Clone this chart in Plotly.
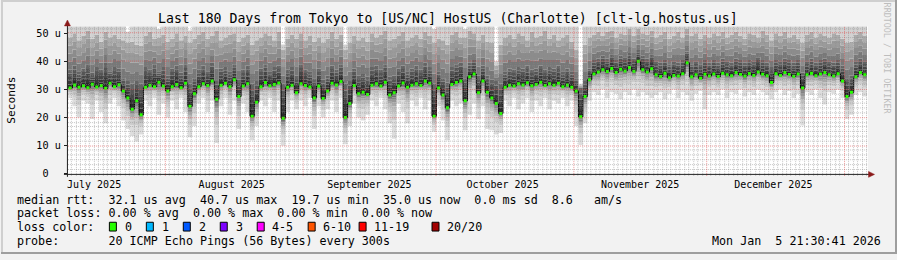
import pandas as pd
import plotly.graph_objects as go

# ---------------- data ----------------
title_text = "Last 180 Days from Tokyo to [US/NC] HostUS (Charlotte) [clt-lg.hostus.us]"
first_day = "2025-07-10 02:30"      # start of the first daily column
x_range = ["2025-07-10 02:30", "2026-01-06 08:00"]
y_max = 52.43

month_labels = ["July 2025", "August 2025", "September 2025",
                "October 2025", "November 2025", "December 2025"]
month_label_pos = ["2025-07-16", "2025-08-16", "2025-09-16",
                   "2025-10-16", "2025-11-16", "2025-12-16"]
month_starts = ["2025-08-01", "2025-09-01", "2025-10-01",
                "2025-11-01", "2025-12-01", "2026-01-01"]
y_tick_vals = [0, 10, 20, 30, 40, 50]
y_tick_text = ["0\u00a0\u00a0", "10 u", "20 u", "30 u", "40 u", "50 u"]

# daily median rtt (units of the y axis, "u")
median_rtt = [
    30.5, 31.6, 30.8, 31.3, 30.6, 31.9, 30.9, 31.4, 30.4, 32.2, 31.0, 31.7,
    29.5, 27.0, 23.0, 26.0, 21.0,
    30.8, 31.5, 31.0, 32.6, 31.2,
    29.5,
    31.0, 31.8, 30.6, 32.2,
    24.0, 28.5,
    31.0, 32.0, 31.4, 33.0,
    26.5,
    31.5, 32.2, 31.0, 33.5,
    27.5,
    31.2, 32.0,
    20.5, 25.5,
    31.0, 32.5, 31.3, 31.8, 32.3,
    19.8,
    30.8, 31.5,
    28.8,
    32.0, 31.4, 30.9,
    27.0,
    31.2,
    26.8, 29.5,
    32.2, 31.6, 32.8,
    20.0, 25.0,
    31.4,
    28.5, 29.0, 28.2,
    31.5, 32.0, 31.2, 32.6,
    28.0, 28.8,
    31.2, 32.3, 30.8, 31.5, 32.0,
    31.4, 33.0, 32.2,
    20.5,
    30.5, 28.0, 23.5,
    31.8, 32.5, 33.0,
    26.0,
    34.5, 35.5,
    28.8, 33.0, 29.0, 27.0, 25.0, 21.5,
    30.8, 31.5, 31.2, 32.0, 31.6, 32.4, 31.3, 31.8, 32.6, 31.4, 32.0, 31.5, 32.2, 31.0, 31.6, 30.8,
    29.5, 20.3, 27.5, 33.5,
    35.5, 36.2, 37.0, 36.4, 37.5, 36.0, 37.2, 36.6, 37.8, 36.5, 40.0, 37.0, 36.2, 37.4,
    35.2, 34.6, 35.8, 34.2, 35.0, 34.8, 35.6, 39.5, 34.5, 35.2, 34.0, 35.4, 34.8,
    35.5, 34.6, 35.8, 35.2, 34.9, 36.0, 35.3, 34.8, 35.7, 35.0, 36.2, 35.4, 34.9,
    32.5,
    35.6, 35.0, 36.0, 35.3, 34.7, 35.5,
    30.5,
    35.2, 35.8, 34.9, 35.5, 36.0, 35.2, 34.8, 35.6,
    33.0, 27.5, 29.0,
    34.5, 36.0, 35.2,
]

# lowest ping of each day (bottom of the smoke)
min_rtt = [
    27, 24, 20, 26, 25, 19.5, 26, 22, 18, 25, 27, 24,
    19, 16, 13.5, 11.5, 14,
    26, 24, 27, 21, 25,
    20,
    26, 23, 27, 22,
    13, 17,
    25, 27, 22, 26,
    11,
    24, 27, 21, 26,
    16,
    25, 22,
    12, 17,
    26, 24, 27, 22, 26,
    10,
    22, 26,
    23,
    26, 24, 27,
    16,
    24,
    20, 23,
    26, 22, 27,
    10.5, 17,
    25,
    20, 19, 21,
    26, 24, 27, 23,
    18, 12.5,
    25, 22, 18, 26, 24,
    27, 23, 26,
    15,
    24, 19, 12,
    26, 24, 25,
    15.5,
    21, 25,
    19.5, 24, 16, 15.5, 14, 14.5,
    26, 24, 27, 23, 25, 27, 22, 26, 24, 27, 23, 26, 25, 27, 24, 26,
    17, 10.3, 18, 26,
    29, 28, 30, 27, 29, 28.5, 26.5, 29, 28, 30, 27.5, 29, 28, 27,
    28, 29, 26.5, 28.5, 30, 27, 29, 28, 26, 28.5, 29.5, 23, 28,
    29, 28, 30, 27, 29, 28.5, 30, 27.5, 29, 28, 30, 29, 28,
    26.5,
    29, 30, 28, 29.5, 27, 28.5,
    17.2,
    29, 28, 30, 27, 24.7, 29, 28.5, 30,
    27, 19.5, 21,
    28, 29, 27.5,
]

# upper quartile ping of each day (top of the dark smoke)
upper_quartile = [
    37, 38.5, 36.5, 37.5, 39, 36, 38, 37, 39.5, 36.5, 38, 37.5,
    34, 33, 32, 33, 32,
    38, 37, 39, 36.5, 38,
    35,
    37.5, 38.5, 36, 39,
    32, 34,
    37, 38.5, 36.5, 39.5,
    33,
    37.5, 38, 36.5, 39,
    33.5,
    37, 38.5,
    32, 33,
    37.5, 39, 36.5, 38, 38.5,
    32,
    37, 38,
    35,
    39, 37, 36.5,
    34,
    37.5,
    33.5, 35,
    38.5, 37, 39,
    32, 33,
    37.5,
    35, 35.5, 34.5,
    38, 38.5, 37, 39,
    34.5, 35,
    37.5, 38.5, 36.5, 37.5, 38.5,
    37, 39.5, 38,
    32,
    36.5, 34, 32.5,
    38, 39, 39.5,
    34,
    39.5, 40.5,
    35, 38.5, 35, 33.5, 33, 32,
    36.5, 37.5, 37, 38, 37.5, 38.5, 37, 37.5, 38.5, 37, 38, 37.5, 38.5, 36.5, 37.5, 36.5,
    34, 30.5, 33, 37.5,
    40.5, 41, 42, 41, 42.5, 40.5, 42, 41.5, 43, 41, 44, 42, 41, 42.5,
    40, 39.5, 40.5, 39, 40, 39.5, 40.5, 43.5, 39, 40, 39, 40.5, 39.5,
    40.5, 39.5, 41, 40, 39.5, 41, 40.5, 39.5, 40.5, 40, 41.5, 40.5, 39.5,
    38,
    40.5, 40, 41, 40.5, 39.5, 40.5,
    36,
    40, 41, 39.5, 40.5, 41, 40, 39.5, 40.5,
    38.5, 34, 35,
    40, 41, 40,
]

# 19th of 20 pings (top of the medium smoke)
high_rtt = [
    48.5, 50, 47.5, 49, 51, 48, 49.5, 47, 50.5, 48.5,
    49.5, 48, 47.5, 46.5, 47, 46, 45.5, 49, 50.5, 48,
    48.5, 49.5, 47, 48, 50, 47.5, 49, 46.5, 48, 49.5,
    50.5, 48, 49, 51, 47.5, 48.5, 49.5, 50, 47, 48.5,
    49.5, 46, 47.5, 48.5, 50, 49, 47.5, 50.5, 44, 48,
    49.5, 48, 50, 47.5, 49, 47, 48.5, 46.5, 48, 50.5,
    48, 49.5, 44, 46.5, 49, 47.5, 48.5, 47, 50, 48.5,
    49.5, 51, 47.5, 48, 49, 50.5, 47.5, 48.5, 49.5, 48,
    50.5, 49, 46.5, 48, 47.5, 46, 49.5, 50.5, 48.5, 48.5,
    51, 50, 47.5, 49.5, 47, 46.5, 38.5, 46, 48.5, 49.5,
    48, 50, 49, 47.5, 50.5, 48.5, 49, 51, 48, 49.5,
    47.5, 48.5, 49.5, 47, 44, 31.5, 46, 48.5, 49.5, 50.5,
    49, 50.5, 51, 48.5, 50, 49.5, 51.5, 49, 51.5, 50,
    49.5, 51, 48.5, 49.5, 50.5, 48, 49, 50.5, 48.5, 51.5,
    49, 50, 48, 49.5, 48.5, 50, 49, 50.5, 48.5, 49.5,
    50.5, 49, 48, 50, 49.5, 48.5, 51, 49.5, 47.5, 50,
    49, 50.5, 48.5, 49.5, 48, 46.5, 49.5, 50.5, 48.5, 50,
    49, 48.5, 50, 49.5, 48, 46.5, 47, 49.5, 50.5, 49,
]

# highest ping of each day (most days run off the top of the graph)
max_rtt = [
    56, 56, 56, 56, 56, 56, 56, 56, 56, 56, 56, 56, 56, 50.5, 56, 56, 56, 56, 56, 56,
    51.5, 56, 56, 56, 56, 56, 56, 51, 56, 56, 56, 56, 56, 56, 56, 56, 56, 56, 56, 56,
    56, 56, 56, 56, 56, 56, 56, 56, 46, 56, 56, 56, 56, 56, 56, 56, 56, 56, 56, 56,
    56, 56, 46, 56, 56, 56, 56, 56, 56, 56, 56, 56, 56, 56, 56, 56, 56, 56, 56, 56,
    56, 56, 51.5, 56, 56, 56, 56, 56, 56, 51.5, 56, 56, 56, 56, 56, 56, 40, 56, 56, 56,
    56, 56, 56, 56, 56, 56, 56, 56, 56, 56, 56, 56, 56, 56, 56, 32, 56, 56, 56, 56,
    56, 56, 56, 56, 56, 56, 56, 56, 56, 56, 56, 56, 56, 56, 56, 56, 56, 56, 56, 56,
    56, 56, 56, 56, 56, 56, 56, 56, 56, 56, 56, 56, 56, 56, 56, 56, 56, 56, 56, 56,
    56, 56, 56, 56, 56, 56, 56, 56, 56, 56, 56, 56, 56, 56, 56, 56, 56, 56, 56, 56,
]

legend_median = "median rtt:  32.1 us avg  40.7 us max  19.7 us min  35.0 us now  0.0 ms sd  8.6   am/s"
legend_loss = "packet loss: 0.00 % avg  0.00 % max  0.00 % min  0.00 % now"
loss_labels = ["0", "1", "2", "3", "4-5", "6-10", "11-19", "20/20"]
loss_colors = ["#26ff00", "#00b8ff", "#0059ff", "#7e00ff", "#ff00ff", "#ff5500", "#ff0000", "#a10000"]
probe_text = "probe:       20 ICMP Echo Pings (56 Bytes) every 300s"
stamp_text = "Mon Jan  5 21:30:41 2026"
watermark = "RRDTOOL / TOBI OETIKER"

# ---------------- layout helpers ----------------
W, H = 897, 260
FONT = "DejaVu Sans Mono"


def px(x):
    return x / W


def py(y):
    return 1 - y / H


def nb(s):
    return s.replace(" ", "\u00a0")


PL, PR, PT, PB = 67, 868, 27, 178
T_START = pd.Timestamp(x_range[0])
T_END = pd.Timestamp(x_range[1])


def snap(p):
    # put a 1px grid line on a pixel centre
    return int(p) + 0.5


def date_px(d):
    return PL + (pd.Timestamp(d) - T_START) / (T_END - T_START) * (PR - PL)


def val_py(v):
    return PB - v / y_max * (PB - PT)


n = len(median_rtt)
assert all(len(a) == n for a in (min_rtt, upper_quartile, high_rtt, max_rtt))
t0 = pd.Timestamp(first_day)
bounds = [t0 + pd.Timedelta(days=i) for i in range(n + 1)]
centers = [t0 + pd.Timedelta(days=i, hours=12) for i in range(n)]

# smoke bands (SmokePing style: dark near the median, light at the extremes)
lower_frac = [0.6, 0.42, 0.30, 0.21, 0.15, 0.10, 0.06, 0.03]
edges = [min_rtt]
for f in lower_frac:
    edges.append([m - (m - lo) * f for m, lo in zip(median_rtt, min_rtt)])
edges.append(median_rtt)
for f in (0.2, 0.4, 0.6, 0.8):
    edges.append([m + (q - m) * f for m, q in zip(median_rtt, upper_quartile)])
edges.append(upper_quartile)
for f in (0.25, 0.5, 0.75):
    edges.append([q + (h - q) * f for q, h in zip(upper_quartile, high_rtt)])
edges.append(high_rtt)
edges.append(max_rtt)
band_grey = [221, 205, 190, 170, 150, 130, 110, 90, 70,
             40, 55, 70, 85, 100, 120, 140, 155, 172, 210]

fig = go.Figure()
for k, e in enumerate(edges):
    yv = list(e) + [e[-1]]
    if k == 0:
        fig.add_trace(go.Scatter(x=bounds, y=yv, mode="lines", line=dict(width=0, shape="hv"),
                                 hoverinfo="skip"))
    else:
        g = band_grey[k - 1]
        fig.add_trace(go.Scatter(x=bounds, y=yv, mode="lines", line=dict(width=0, shape="hv"),
                                 fill="tonexty", fillcolor=f"rgb({g},{g},{g})", hoverinfo="skip"))

# median line with loss-colour dots
fig.add_trace(go.Scatter(x=centers, y=median_rtt, mode="lines+markers",
                         line=dict(color="#000000", width=1, shape="hvh"),
                         marker=dict(symbol="square", size=3, color=loss_colors[0], line=dict(width=0)),
                         hoverinfo="skip"))

shapes = []
GRID = "rgba(143,143,143,0.5)"
MGRID = "rgba(222,79,79,0.6)"


def hline(v, color):
    yy = snap(val_py(v))
    return dict(type="line", xref="paper", yref="paper", x0=px(PL), x1=px(PR), y0=py(yy), y1=py(yy),
                line=dict(color=color, width=1, dash="1px,1px"), layer="above")


def vline(d, color):
    xx = snap(date_px(d))
    return dict(type="line", xref="paper", yref="paper", x0=px(xx), x1=px(xx), y0=py(PB + 2), y1=py(PT),
                line=dict(color=color, width=1, dash="1px,1px"), layer="above")


# minor grid
for k in range(1, 32):
    if k % 6 == 0:
        continue
    shapes.append(hline(k * 10 / 6, GRID))
for d in pd.date_range("2025-07-11", "2026-01-06", freq="D"):
    if d.day == 1:
        continue
    shapes.append(vline(d, GRID))
# major grid
for yv in y_tick_vals[1:]:
    shapes.append(hline(yv, MGRID))
for ms in month_starts:
    shapes.append(vline(ms, MGRID))
# axes and arrows
AX = "#1f1f1f"
AR = "#8b1a1a"
shapes.append(dict(type="line", xref="paper", yref="paper", x0=px(63), x1=px(870), y0=py(178.5), y1=py(178.5),
                   line=dict(color=AX, width=1), layer="above"))
shapes.append(dict(type="line", xref="paper", yref="paper", x0=px(66.5), x1=px(66.5), y0=py(181), y1=py(25),
                   line=dict(color=AX, width=1), layer="above"))
shapes.append(dict(type="path", xref="paper", yref="paper",
                   path=f"M {px(63.5)} {py(26.5)} L {px(69.5)} {py(26.5)} L {px(66.5)} {py(20.5)} Z",
                   fillcolor=AR, line=dict(color=AR, width=0.5), layer="above"))
shapes.append(dict(type="path", xref="paper", yref="paper",
                   path=f"M {px(868.5)} {py(175.5)} L {px(868.5)} {py(181.5)} L {px(874.5)} {py(178.5)} Z",
                   fillcolor=AR, line=dict(color=AR, width=0.5), layer="above"))
# 3D frame
shapes += [
    dict(type="rect", xref="paper", yref="paper", x0=0, x1=1, y0=py(2), y1=1, fillcolor="#cfcfcf", line=dict(width=0)),
    dict(type="rect", xref="paper", yref="paper", x0=0, x1=px(2), y0=0, y1=1, fillcolor="#cfcfcf", line=dict(width=0)),
    dict(type="rect", xref="paper", yref="paper", x0=0, x1=1, y0=0, y1=py(258), fillcolor="#9e9e9e", line=dict(width=0)),
    dict(type="rect", xref="paper", yref="paper", x0=px(895), x1=1, y0=0, y1=1, fillcolor="#9e9e9e", line=dict(width=0)),
]

annotations = []


def text(x, y, s, size, anchor="left", color="#000000", angle=0):
    annotations.append(dict(xref="paper", yref="paper", x=px(x), y=py(y), text=nb(s), showarrow=False,
                            xanchor=anchor, yanchor="middle", borderpad=0, textangle=angle,
                            font=dict(family=FONT, size=size, color=color)))


text(447.5, 19, title_text, 13.2, anchor="center")
text(11, 102, "Seconds", 11.2, anchor="center", angle=-90)
text(887, 60, watermark, 8.4, anchor="center", color="#bdbdbd", angle=90)
LX = 15.5
text(LX, 204.3, legend_median, 11.7)
text(LX, 218.3, legend_loss, 11.7)
text(LX, 232.3, "loss color:", 11.7)
text(LX, 246.2, probe_text, 11.7)
text(882, 246.2, stamp_text, 11.7, anchor="right")
box_left = [108.5, 145.5, 182.5, 219.5, 256.5, 307.5, 358.5, 431.5]
for bx, lab, col in zip(box_left, loss_labels, loss_colors):
    shapes.append(dict(type="rect", xref="paper", yref="paper", x0=px(bx), x1=px(bx + 7),
                       y0=py(236.5), y1=py(227.5), fillcolor=col, line=dict(color="#000000", width=1)))
    text(bx + 14.3, 232.3, lab, 11.7)

fig.update_layout(
    width=W, height=H, margin=dict(l=0, r=0, t=0, b=0),
    paper_bgcolor="#f2f2f2", plot_bgcolor="#ffffff",
    showlegend=False, hovermode=False,
    shapes=shapes, annotations=annotations,
    xaxis=dict(domain=[px(PL), px(PR)], range=x_range, type="date",
               tickvals=month_label_pos, ticktext=month_labels, ticks="",
               ticklabelstandoff=3,
               showgrid=False, zeroline=False, showline=False,
               tickfont=dict(family=FONT, size=10, color="#000000")),
    yaxis=dict(domain=[py(PB), py(PT)], range=[0, y_max],
               tickvals=y_tick_vals, ticktext=y_tick_text, ticks="outside", ticklen=3,
               ticklabelstandoff=1,
               tickcolor=AX, showgrid=False, zeroline=False, showline=False,
               tickfont=dict(family=FONT, size=10.2, color="#000000")),
)

fig.write_html("out.html")
